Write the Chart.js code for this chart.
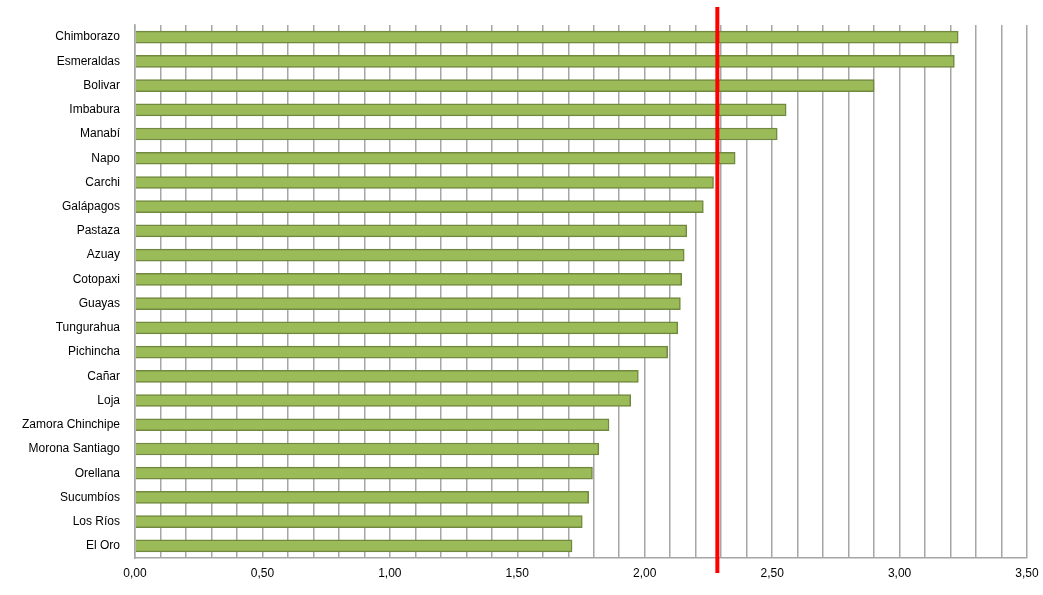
<!DOCTYPE html>
<html>
<head>
<meta charset="utf-8">
<script src="https://cdn.jsdelivr.net/npm/chart.js@4"></script>
<style>
  html, body { margin: 0; padding: 0; background: #fff; }
  #wrap { width: 1043px; height: 595px; }
</style>
</head>
<body>
<div id="wrap"><canvas id="chart"></canvas></div>
<script>
const provincias = ['Chimborazo', 'Esmeraldas', 'Bolivar', 'Imbabura', 'Manabí', 'Napo', 'Carchi',
    'Galápagos', 'Pastaza', 'Azuay', 'Cotopaxi', 'Guayas', 'Tungurahua', 'Pichincha', 'Cañar',
    'Loja', 'Zamora Chinchipe', 'Morona Santiago', 'Orellana', 'Sucumbíos', 'Los Ríos', 'El Oro'];
const valores = [3.23, 3.215, 2.90, 2.555, 2.52, 2.355, 2.27,
    2.23, 2.165, 2.155, 2.145, 2.14, 2.13, 2.09, 1.975,
    1.945, 1.86, 1.82, 1.795, 1.78, 1.755, 1.715];
const promedio = 2.285;

// red reference line, drawn through the x scale
const linea_promedio = {
    id: 'linea_promedio',
    afterDatasetsDraw(chart) {
        const x = chart.scales.x.getPixelForValue(promedio);
        const ctx = chart.ctx;
        ctx.save();
        ctx.strokeStyle = '#FF0000';
        ctx.lineWidth = 4;
        ctx.beginPath();
        ctx.moveTo(x, 7);
        ctx.lineTo(x, chart.chartArea.bottom + 15);
        ctx.stroke();
        ctx.restore();
    }
};

Chart.defaults.font.family = '"Liberation Sans", Arial, sans-serif';
Chart.defaults.color = '#000';

const ctx = document.getElementById('chart').getContext('2d');
new Chart(ctx, {
    type: 'bar',
    data: {
        labels: provincias,
        datasets: [{
            data: valores,
            backgroundColor: '#9BBB59',
            borderColor: '#71893F',
            borderWidth: 1.5,
            barThickness: 12,
        }],
    },
    options: {
        indexAxis: 'y',
        responsive: true,
        maintainAspectRatio: false,
        animation: false,
        layout: { padding: { top: 25, right: 0 } },
        plugins: {
            legend: { display: false },
            tooltip: { enabled: false },
        },
        scales: {
            x: {
                min: 0,
                max: 3.5,
                afterFit: s => { s.height = 37; s.paddingRight = 16; s.paddingLeft = 0; },
                ticks: {
                    stepSize: 0.1,
                    autoSkip: false,
                    maxRotation: 0,
                    padding: 8,
                    font: { size: 12 },
                    callback: v => {
                        const r = Math.round(v * 10);
                        return r % 5 === 0 ? (r / 10).toFixed(2).replace('.', ',') : '';
                    },
                },
                grid: {
                    color: '#A6A6A6',
                    lineWidth: 1.5,
                    drawTicks: false,
                },
                border: { color: '#A6A6A6', width: 1.5 },
            },
            y: {
                afterFit: s => { s.width = 135; },
                ticks: {
                    autoSkip: false,
                    padding: 7,
                    font: { size: 12 },
                },
                grid: { display: false },
                border: { color: '#A6A6A6', width: 1.5 },
            },
        },
    },
    plugins: [linea_promedio],
});
</script>
</body>
</html>
